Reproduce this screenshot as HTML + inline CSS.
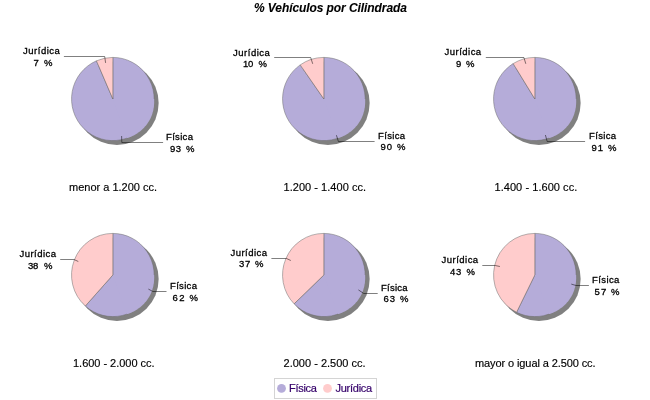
<!DOCTYPE html>
<html><head><meta charset="utf-8"><title>% Vehículos por Cilindrada</title>
<style>
html,body{margin:0;padding:0;background:#fff;width:650px;height:400px;overflow:hidden}
svg{display:block;will-change:transform}
text{font-family:'Liberation Sans',Arial,sans-serif;white-space:pre}
.sub{font-size:11px;fill:#000;stroke:#000;stroke-width:0.15px}
.ttl{font-size:12px;font-weight:bold;font-style:italic;fill:#000;stroke:#000;stroke-width:0.1px}
.lg{font-size:11px;fill:#35006a;stroke:#35006a;stroke-width:0.2px}
.lbl{font-size:9.5px;fill:#000;stroke:#000;stroke-width:0.3px;word-spacing:2px}
</style></head><body>
<svg width="650" height="400" viewBox="0 0 650 400">
<rect width="650" height="400" fill="#fff"/>
<ellipse cx="116.95" cy="103.10" rx="41.7" ry="41.9" fill="#808080"/>
<path d="M112.85,99.00 L112.85,57.40 A41.3,41.6 0 1 1 96.45,60.82 Z" fill="#b5acd9" stroke="#6a6a6a" stroke-width="0.5"/>
<path d="M112.85,99.00 L96.45,60.82 A41.3,41.6 0 0 1 112.85,57.40 Z" fill="#ffcccc" stroke="#6a6a6a" stroke-width="0.5"/>
<path d="M112.85,99.00L154.15,99.00L154.21,100.45L154.23,101.91L154.19,103.38L154.10,104.84L153.95,106.30L153.75,107.76L153.49,109.21L153.18,110.65L152.82,112.08L152.39,113.50L151.92,114.90L151.38,116.28L150.80,117.64L150.16,118.98L149.46,120.29L148.71,121.57L147.92,122.82L147.07,124.04L146.18,125.22L145.23,126.37L144.25,127.47L143.22,128.54L142.15,129.56L141.04,130.54L139.90,131.47L138.72,132.35L137.51,133.19L136.27,133.98L135.01,134.71L133.72,135.40L132.40,136.04L131.07,136.63L129.72,137.17L128.35,137.65L126.98,138.09Z" fill="#b5acd9"/>
<polyline points="63.9,56.5 104.7,56.5 105.6,62.9" fill="none" stroke="#000" stroke-width="0.5"/>
<polyline points="121.6,136.0 121.8,142.5 163.1,142.5" fill="none" stroke="#000" stroke-width="0.5"/>
<ellipse cx="327.95" cy="103.10" rx="41.7" ry="41.9" fill="#808080"/>
<path d="M323.85,99.00 L323.85,57.40 A41.3,41.6 0 1 1 300.21,64.89 Z" fill="#b5acd9" stroke="#6a6a6a" stroke-width="0.5"/>
<path d="M323.85,99.00 L300.21,64.89 A41.3,41.6 0 0 1 323.85,57.40 Z" fill="#ffcccc" stroke="#6a6a6a" stroke-width="0.5"/>
<path d="M323.85,99.00L365.15,99.00L365.21,100.45L365.23,101.91L365.19,103.38L365.10,104.84L364.95,106.30L364.75,107.76L364.49,109.21L364.18,110.65L363.82,112.08L363.39,113.50L362.92,114.90L362.38,116.28L361.80,117.64L361.16,118.98L360.46,120.29L359.71,121.57L358.92,122.82L358.07,124.04L357.18,125.22L356.23,126.37L355.25,127.47L354.22,128.54L353.15,129.56L352.04,130.54L350.90,131.47L349.72,132.35L348.51,133.19L347.27,133.98L346.01,134.71L344.72,135.40L343.40,136.04L342.07,136.63L340.72,137.17L339.35,137.65L337.98,138.09Z" fill="#b5acd9"/>
<polyline points="274.2,57.5 310.7,57.5 312.7,63.8" fill="none" stroke="#000" stroke-width="0.5"/>
<polyline points="336.4,135.2 338.4,141.5 374.6,141.5" fill="none" stroke="#000" stroke-width="0.5"/>
<ellipse cx="538.95" cy="103.10" rx="41.7" ry="41.9" fill="#808080"/>
<path d="M534.85,99.00 L534.85,57.40 A41.3,41.6 0 1 1 513.16,63.60 Z" fill="#b5acd9" stroke="#6a6a6a" stroke-width="0.5"/>
<path d="M534.85,99.00 L513.16,63.60 A41.3,41.6 0 0 1 534.85,57.40 Z" fill="#ffcccc" stroke="#6a6a6a" stroke-width="0.5"/>
<path d="M534.85,99.00L576.15,99.00L576.21,100.45L576.23,101.91L576.19,103.38L576.10,104.84L575.95,106.30L575.75,107.76L575.49,109.21L575.18,110.65L574.82,112.08L574.39,113.50L573.92,114.90L573.38,116.28L572.80,117.64L572.16,118.98L571.46,120.29L570.71,121.57L569.92,122.82L569.07,124.04L568.18,125.22L567.23,126.37L566.25,127.47L565.22,128.54L564.15,129.56L563.04,130.54L561.90,131.47L560.72,132.35L559.51,133.19L558.27,133.98L557.01,134.71L555.72,135.40L554.40,136.04L553.07,136.63L551.72,137.17L550.35,137.65L548.98,138.09Z" fill="#b5acd9"/>
<polyline points="485.8,57.5 523.9,57.5 525.8,63.8" fill="none" stroke="#000" stroke-width="0.5"/>
<polyline points="545.4,135.0 547.2,141.5 585.1,141.5" fill="none" stroke="#000" stroke-width="0.5"/>
<ellipse cx="116.95" cy="279.10" rx="41.7" ry="41.9" fill="#808080"/>
<path d="M112.85,275.00 L112.85,233.40 A41.3,41.6 0 1 1 85.34,306.03 Z" fill="#b5acd9" stroke="#6a6a6a" stroke-width="0.5"/>
<path d="M112.85,275.00 L85.34,306.03 A41.3,41.6 0 0 1 112.85,233.40 Z" fill="#ffcccc" stroke="#6a6a6a" stroke-width="0.5"/>
<path d="M112.85,275.00L154.15,275.00L154.21,276.45L154.23,277.91L154.19,279.38L154.10,280.84L153.95,282.30L153.75,283.76L153.49,285.21L153.18,286.65L152.82,288.08L152.39,289.50L151.92,290.90L151.38,292.28L150.80,293.64L150.16,294.98L149.46,296.29L148.71,297.57L147.92,298.82L147.07,300.04L146.18,301.22L145.23,302.37L144.25,303.47L143.22,304.54L142.15,305.56L141.04,306.54L139.90,307.47L138.72,308.35L137.51,309.19L136.27,309.98L135.01,310.71L133.72,311.40L132.40,312.04L131.07,312.63L129.72,313.17L128.35,313.65L126.98,314.09Z" fill="#b5acd9"/>
<polyline points="60.2,259.5 74.0,259.5 78.3,261.5" fill="none" stroke="#000" stroke-width="0.5"/>
<polyline points="148.4,289.1 152.9,291.5 166.5,291.5" fill="none" stroke="#000" stroke-width="0.5"/>
<ellipse cx="327.95" cy="279.10" rx="41.7" ry="41.9" fill="#808080"/>
<path d="M323.85,275.00 L323.85,233.40 A41.3,41.6 0 1 1 294.10,303.86 Z" fill="#b5acd9" stroke="#6a6a6a" stroke-width="0.5"/>
<path d="M323.85,275.00 L294.10,303.86 A41.3,41.6 0 0 1 323.85,233.40 Z" fill="#ffcccc" stroke="#6a6a6a" stroke-width="0.5"/>
<path d="M323.85,275.00L365.15,275.00L365.21,276.45L365.23,277.91L365.19,279.38L365.10,280.84L364.95,282.30L364.75,283.76L364.49,285.21L364.18,286.65L363.82,288.08L363.39,289.50L362.92,290.90L362.38,292.28L361.80,293.64L361.16,294.98L360.46,296.29L359.71,297.57L358.92,298.82L358.07,300.04L357.18,301.22L356.23,302.37L355.25,303.47L354.22,304.54L353.15,305.56L352.04,306.54L350.90,307.47L349.72,308.35L348.51,309.19L347.27,309.98L346.01,310.71L344.72,311.40L343.40,312.04L342.07,312.63L340.72,313.17L339.35,313.65L337.98,314.09Z" fill="#b5acd9"/>
<polyline points="271.4,258.5 286.5,258.5 290.8,260.5" fill="none" stroke="#000" stroke-width="0.5"/>
<polyline points="358.4,289.9 363.8,293.5 377.7,293.5" fill="none" stroke="#000" stroke-width="0.5"/>
<ellipse cx="538.95" cy="279.10" rx="41.7" ry="41.9" fill="#808080"/>
<path d="M534.85,275.00 L534.85,233.40 A41.3,41.6 0 1 1 516.56,312.30 Z" fill="#b5acd9" stroke="#6a6a6a" stroke-width="0.5"/>
<path d="M534.85,275.00 L516.56,312.30 A41.3,41.6 0 0 1 534.85,233.40 Z" fill="#ffcccc" stroke="#6a6a6a" stroke-width="0.5"/>
<path d="M534.85,275.00L576.15,275.00L576.21,276.45L576.23,277.91L576.19,279.38L576.10,280.84L575.95,282.30L575.75,283.76L575.49,285.21L575.18,286.65L574.82,288.08L574.39,289.50L573.92,290.90L573.38,292.28L572.80,293.64L572.16,294.98L571.46,296.29L570.71,297.57L569.92,298.82L569.07,300.04L568.18,301.22L567.23,302.37L566.25,303.47L565.22,304.54L564.15,305.56L563.04,306.54L561.90,307.47L560.72,308.35L559.51,309.19L558.27,309.98L557.01,310.71L555.72,311.40L554.40,312.04L553.07,312.63L551.72,313.17L550.35,313.65L548.98,314.09Z" fill="#b5acd9"/>
<polyline points="482.3,265.5 495.2,265.5 499.9,266.5" fill="none" stroke="#000" stroke-width="0.5"/>
<polyline points="571.3,284.1 576.0,285.5 588.9,285.5" fill="none" stroke="#000" stroke-width="0.5"/>
<rect x="274.5" y="378.5" width="102" height="20" fill="none" stroke="#d4d4d4" stroke-width="1"/>
<circle cx="281.5" cy="388.4" r="4.4" fill="#b5acd9"/>
<circle cx="327.5" cy="388.4" r="4.4" fill="#ffcccc"/>
<text x="254.00" y="12.00" class="ttl" textLength="152.92" lengthAdjust="spacing">% Vehículos por Cilindrada</text>
<text x="69.00" y="191.00" class="sub" textLength="88.06" lengthAdjust="spacing">menor a 1.200 cc.</text>
<text x="23.00" y="54.00" class="lbl" textLength="36.87" lengthAdjust="spacing">Jurídica</text>
<text x="33.50" y="66.00" class="lbl">7</text>
<text x="44.00" y="66.00" class="lbl">%</text>
<text x="166.00" y="140.00" class="lbl" textLength="26.94" lengthAdjust="spacing">Física</text>
<text x="170.00" y="152.00" class="lbl" textLength="10.98" lengthAdjust="spacing">93</text>
<text x="186.00" y="152.00" class="lbl">%</text>
<text x="283.50" y="191.00" class="sub" textLength="82.55" lengthAdjust="spacing">1.200 - 1.400 cc.</text>
<text x="233.00" y="56.00" class="lbl" textLength="36.87" lengthAdjust="spacing">Jurídica</text>
<text x="243.00" y="67.00" class="lbl" textLength="10.38" lengthAdjust="spacing">10</text>
<text x="258.50" y="67.00" class="lbl">%</text>
<text x="378.00" y="139.00" class="lbl" textLength="27.14" lengthAdjust="spacing">Física</text>
<text x="380.50" y="150.00" class="lbl" textLength="11.58" lengthAdjust="spacing">90</text>
<text x="397.00" y="150.00" class="lbl">%</text>
<text x="494.50" y="191.00" class="sub" textLength="82.75" lengthAdjust="spacing">1.400 - 1.600 cc.</text>
<text x="444.50" y="55.00" class="lbl" textLength="36.67" lengthAdjust="spacing">Jurídica</text>
<text x="456.00" y="67.00" class="lbl">9</text>
<text x="466.00" y="67.00" class="lbl">%</text>
<text x="589.00" y="139.00" class="lbl" textLength="27.14" lengthAdjust="spacing">Física</text>
<text x="591.50" y="151.00" class="lbl" textLength="11.58" lengthAdjust="spacing">91</text>
<text x="608.00" y="151.00" class="lbl">%</text>
<text x="73.00" y="367.00" class="sub" textLength="81.55" lengthAdjust="spacing">1.600 - 2.000 cc.</text>
<text x="19.50" y="257.00" class="lbl" textLength="36.47" lengthAdjust="spacing">Jurídica</text>
<text x="28.00" y="269.00" class="lbl" textLength="10.38" lengthAdjust="spacing">38</text>
<text x="44.00" y="269.00" class="lbl">%</text>
<text x="170.00" y="289.00" class="lbl" textLength="26.94" lengthAdjust="spacing">Física</text>
<text x="172.50" y="301.00" class="lbl" textLength="11.98" lengthAdjust="spacing">62</text>
<text x="189.50" y="301.00" class="lbl">%</text>
<text x="283.50" y="367.00" class="sub" textLength="82.15" lengthAdjust="spacing">2.000 - 2.500 cc.</text>
<text x="230.50" y="256.00" class="lbl" textLength="36.47" lengthAdjust="spacing">Jurídica</text>
<text x="239.00" y="267.00" class="lbl" textLength="11.18" lengthAdjust="spacing">37</text>
<text x="255.00" y="267.00" class="lbl">%</text>
<text x="381.00" y="291.00" class="lbl" textLength="26.54" lengthAdjust="spacing">Física</text>
<text x="383.50" y="302.00" class="lbl" textLength="11.58" lengthAdjust="spacing">63</text>
<text x="400.00" y="302.00" class="lbl">%</text>
<text x="475.00" y="367.00" class="sub" textLength="120.51" lengthAdjust="spacing">mayor o igual a 2.500 cc.</text>
<text x="441.50" y="263.00" class="lbl" textLength="36.67" lengthAdjust="spacing">Jurídica</text>
<text x="450.00" y="275.00" class="lbl" textLength="11.38" lengthAdjust="spacing">43</text>
<text x="466.50" y="275.00" class="lbl">%</text>
<text x="592.00" y="283.00" class="lbl" textLength="27.34" lengthAdjust="spacing">Física</text>
<text x="594.50" y="295.00" class="lbl" textLength="11.78" lengthAdjust="spacing">57</text>
<text x="611.00" y="295.00" class="lbl">%</text>
<text x="289.00" y="392.00" class="lg" textLength="27.94" lengthAdjust="spacing">Física</text>
<text x="335.50" y="392.00" class="lg" textLength="36.73" lengthAdjust="spacing">Jurídica</text>
</svg>
</body></html>
